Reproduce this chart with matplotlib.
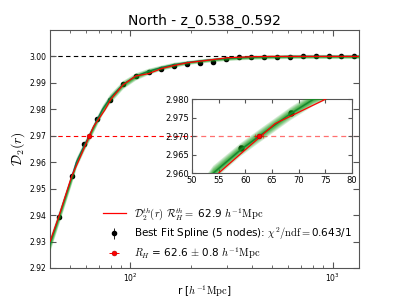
import numpy as np
import matplotlib
matplotlib.use("Agg")
import matplotlib.pyplot as plt

plt.rcParams['mathtext.fontset'] = 'cm'
plt.rcParams['font.family'] = ['DejaVu Sans']

# data points (r in h^-1 Mpc, D2)
r_data = [44.2, 51.1, 59.2, 68.5, 79.3, 91.8, 106.2, 122.9, 142.3, 164.8, 190.7,
          220.8, 255.5, 295.8, 342.4, 396.3, 458.7, 531.0, 614.7, 711.5, 823.6,
          953.4, 1103.6, 1277.5]
d2_data = [2.9394, 2.9549, 2.9669, 2.9763, 2.9835, 2.9894, 2.9926, 2.9941, 2.9954,
           2.9965, 2.9970, 2.9975, 2.9979, 2.9989, 2.9996, 2.9997, 2.9997, 2.9997,
           2.9999, 3.0001, 3.0002, 3.0001, 3.0000, 3.0000]
d2_err = [0.0004, 0.0004, 0.0004, 0.0004, 0.0003, 0.0003, 0.0003, 0.0003, 0.0003,
          0.0002, 0.0002, 0.0002, 0.0002, 0.0002, 0.0002, 0.0002, 0.0002, 0.0002,
          0.0002, 0.0002, 0.0002, 0.0002, 0.0002, 0.0002]

# best-fit spline and its uncertainty
r_fit = [40.0, 44.2, 51.1, 54.0, 59.2, 62.6, 68.5, 72.8, 79.3, 91.8, 106.2, 122.9,
         142.3, 164.8, 190.7, 220.8, 255.5, 295.8, 342.4, 396.3, 458.7, 531.0,
         614.7, 711.5, 823.6, 953.4, 1103.6, 1350.0]
d2_fit = [2.9292, 2.9392, 2.9540, 2.9600, 2.9664, 2.9700, 2.9761, 2.9800, 2.9842,
          2.9894, 2.9925, 2.9944, 2.9958, 2.9969, 2.9977, 2.9983, 2.9988, 2.9992,
          2.9995, 2.9997, 2.9998, 2.9999, 3.0000, 3.0000, 3.0000, 3.0000, 3.0000,
          3.0000]
d2_fit_sig = [0.0014, 0.0013, 0.0011, 0.0010, 0.0009, 0.0009, 0.0009, 0.0009, 0.0009,
              0.0008, 0.0007, 0.0006, 0.0005, 0.0005, 0.0004, 0.0004, 0.0004, 0.0004,
              0.0004, 0.0004, 0.0004, 0.0004, 0.0004, 0.0004, 0.0004, 0.0004, 0.0004,
              0.0004]

# theory model
r_th = [40.0, 44.2, 51.1, 55.0, 65.6, 74.6, 80.0, 92.0, 106.2, 122.9, 142.3, 164.8,
        190.7, 220.8, 255.5, 300.0, 400.0, 500.0, 1350.0]
d2_th = [2.9300, 2.9394, 2.9545, 2.9600, 2.9734, 2.9797, 2.9838, 2.9893, 2.9926,
         2.9935, 2.9954, 2.9966, 2.9976, 2.9982, 2.9988, 2.9995, 2.9999, 3.0000, 3.0000]

rh_val, rh_err, rh_level = 62.6, 0.8, 2.97
rh_th = 62.9
chi2_label = '0.643/1'

band_levels = [2.0, 1.7, 1.4, 1.15, 0.95, 0.75, 0.55, 0.4, 0.25]

fig = plt.figure(figsize=(3.99, 2.99), dpi=100)
ax = fig.add_axes([0.1253, 0.1037, 0.7747, 0.796])


def draw(a, inset=False):
    rf = np.array(r_fit); df = np.array(d2_fit); sf = np.array(d2_fit_sig)
    a.errorbar(r_data, d2_data, yerr=d2_err, fmt='o', color='k', ms=3 if not inset else 3.5,
               capsize=1.5, elinewidth=0.6, zorder=2)
    a.plot(rf, df, color='#1a3fa0', lw=1.0, zorder=3)
    for k in band_levels:
        a.fill_between(rf, df - k * sf, df + k * sf, color='#169a16', alpha=0.17,
                       lw=0, zorder=4)
    a.plot(r_th, d2_th, color='red', lw=0.9, zorder=5)
    a.errorbar([rh_val], [rh_level], xerr=[rh_err], fmt='o', color='red', ms=3.5,
               capsize=1.5, elinewidth=0.7, mec='#aa0000', mew=0.4, zorder=6)


draw(ax)
ax.axhline(3.0, color='k', ls='--', lw=0.8, dashes=(4, 3), zorder=1)
ax.axhline(rh_level, color='red', ls='--', lw=0.8, dashes=(4, 3), zorder=1)
ax.set_xscale('log')
ax.set_xlim(40, 1350)
ax.set_ylim(2.92, 3.01)
ax.set_yticks([2.92, 2.93, 2.94, 2.95, 2.96, 2.97, 2.98, 2.99, 3.00])
ax.yaxis.set_major_formatter(matplotlib.ticker.FormatStrFormatter('%.2f'))
ax.tick_params(which='both', direction='in', top=True, right=True, labelsize=5.5,
               color='#555555', pad=2.5)
ax.tick_params(which='major', length=4)
ax.tick_params(which='minor', length=2)
for s in ax.spines.values():
    s.set_color('#555555')
ax.set_title('North - z_0.538_0.592', fontsize=10, pad=4)
ax.set_ylabel(r'$\mathcal{D}_2(r)$', fontsize=10, labelpad=2)
ax.set_xlabel(r'r [$h^{-1}\mathrm{Mpc}$]', fontsize=7.5, labelpad=0)

# legend handles
l1, = ax.plot([], [], color='red', lw=0.9)
l2 = ax.errorbar([], [], yerr=[], fmt='o', color='k', ms=3, capsize=1.5, elinewidth=0.6)
l3 = ax.errorbar([], [], xerr=[], fmt='o', color='red', ms=3.5, capsize=1.5,
                 elinewidth=0.7, mec='#aa0000', mew=0.4)
ax.legend([l1, l2, l3],
          [r'$\mathcal{D}_2^{th}(r)$ $\mathcal{R}_H^{th}=$ ' + f'{rh_th}' + r' $h^{-1}\mathrm{Mpc}$',
           r'Best Fit Spline (5 nodes): $\chi^2/\mathrm{ndf}=$' + chi2_label,
           r'$R_H$ = ' + f'{rh_val}' + r' $\pm$ ' + f'{rh_err}' + r' $h^{-1}\mathrm{Mpc}$'],
          loc='lower right', frameon=False, fontsize=7.5, handlelength=2.2,
          borderaxespad=0.3, labelspacing=0.3, handletextpad=0.8)

# inset
axi = fig.add_axes([0.481, 0.421, 0.401, 0.247])
draw(axi, inset=True)
axi.axhline(rh_level, color='#ff7070', ls='--', lw=0.9, dashes=(4, 3), zorder=1)
axi.set_xlim(50, 80)
axi.set_ylim(2.960, 2.980)
axi.set_xticks([50, 55, 60, 65, 70, 75, 80])
axi.set_yticks([2.960, 2.965, 2.970, 2.975, 2.980])
axi.yaxis.set_major_formatter(matplotlib.ticker.FormatStrFormatter('%.3f'))
axi.tick_params(direction='in', top=True, right=True, labelsize=6, length=3,
                color='#555555', pad=2)
for s in axi.spines.values():
    s.set_color('#555555')

fig.savefig('out.png', dpi=100)
